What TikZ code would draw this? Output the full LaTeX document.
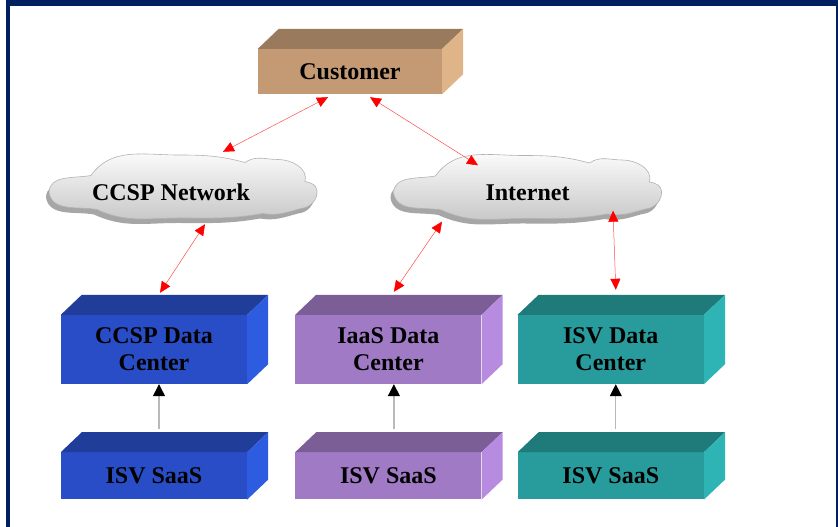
\documentclass[tikz,border=0pt]{standalone}
\usepackage{fontspec}
\setmainfont{Liberation Serif}
\usetikzlibrary{arrows.meta,positioning}

\definecolor{frame}{HTML}{002060}
\definecolor{custfront}{HTML}{C49A74}
\definecolor{custtop}{HTML}{997A5C}
\definecolor{custside}{HTML}{E0B489}
\definecolor{bluefront}{HTML}{284DC6}
\definecolor{bluetop}{HTML}{203D9A}
\definecolor{blueside}{HTML}{2E5CE0}
\definecolor{purpfront}{HTML}{A07AC4}
\definecolor{purptop}{HTML}{7C5E96}
\definecolor{purpside}{HTML}{B68BE0}
\definecolor{tealfront}{HTML}{289C9C}
\definecolor{tealtop}{HTML}{1F7A7A}
\definecolor{tealside}{HTML}{2EB4B4}

% top and right faces of a block
\newcommand{\boxfaces}[3]{%
  \fill[#2] (#1.north west) -- ++(21pt,20pt) -- ([shift={(21pt,20pt)}]#1.north east) -- (#1.north east) -- cycle;
  \fill[#3] (#1.north east) -- ++(21pt,20pt) -- ([shift={(21pt,20pt)}]#1.south east) -- (#1.south east) -- cycle;}

% outline of a cloud, around (0,0)
\newcommand{\cloudpath}{(-134,-6) to[out=88,in=190] (-92,11) to[out=55,in=180] (-5,31.5)
  to[out=0,in=165] (62,24) to[out=35,in=180] (95,27) to[out=0,in=75] (122,5)
  to[out=-10,in=95] (134,-4) to[out=-85,in=5] (118,-22) to[out=195,in=-10] (80,-27)
  to[out=190,in=0] (-3,-31.5) to[out=180,in=-25] (-86,-23) to[out=170,in=-80] (-134,-6) -- cycle}
\newcommand{\cloudat}[1]{%
  \begin{scope}[shift={#1}]
    \fill[gray!70] [shift={(-3,-5)}] \cloudpath;
    \shade[top color=white, bottom color=gray!45, draw=gray!60, line width=0.6pt] \cloudpath;
  \end{scope}}

\tikzset{
  block/.style={fill=#1, minimum width=186pt, minimum height=69pt, inner sep=0pt, align=center,
    font=\fontsize{24}{27}\selectfont\bfseries},
  netbox/.style={minimum width=267pt, minimum height=63pt, inner sep=0pt},
  nettext/.style={inner sep=0pt, font=\fontsize{24}{27}\selectfont\bfseries},
  link/.style={draw=red!70, line width=0.5pt,
    {Triangle[length=11pt,width=10pt,color=red]}-{Triangle[length=11pt,width=10pt,color=red]}},
  feed/.style={draw=gray!55, line width=1.2pt, -{Triangle[length=12pt,width=12pt,color=black]}}
}

\begin{document}
\begin{tikzpicture}[x=1pt,y=1pt]
  \useasboundingbox (0,0) rectangle (838,527);
  % frame
  \fill[frame] (6,0) rectangle (10,527);
  \fill[frame] (6,521) rectangle (838,527);
  \fill[frame] (836,0) rectangle (838,527);

  \node[block=custfront, minimum width=184pt, minimum height=45pt] (cust) at (350,455.5) {Customer};
  \boxfaces{cust}{custtop}{custside}

  % clouds
  \cloudat{(183,340.5)}
  \cloudat{(527.5,340)}
  \node[netbox] (ccspnet) at (183,340.5) {};
  \node[netbox] (inet) at (527.5,340) {};
  \node[nettext] (ccsplabel) at ([xshift=-12pt,yshift=-6pt]ccspnet.center) {CCSP Network};
  \node[nettext] (inetlabel) at ([yshift=-6pt]inet.center) {Internet};

  \node[block=bluefront] (ccspdc) at (154,177.5) {CCSP Data\\Center};
  \node[block=purpfront] (iaasdc) [right=48pt of ccspdc] {IaaS Data\\Center};
  \node[block=tealfront] (isvdc) [right=36pt of iaasdc] {ISV Data\\Center};
  \boxfaces{ccspdc}{bluetop}{blueside}
  \boxfaces{iaasdc}{purptop}{purpside}
  \boxfaces{isvdc}{tealtop}{tealside}

  \node[block=bluefront, minimum height=47pt] (saas1) [below=68pt of ccspdc] {ISV SaaS};
  \node[block=purpfront, minimum height=47pt] (saas2) [below=68pt of iaasdc] {ISV SaaS};
  \node[block=tealfront, minimum height=47pt] (saas3) [below=68pt of isvdc] {ISV SaaS};
  \boxfaces{saas1}{bluetop}{blueside}
  \boxfaces{saas2}{purptop}{purpside}
  \boxfaces{saas3}{tealtop}{tealside}

  \draw[link] ([xshift=-22pt,yshift=-3pt]cust.south) -- ([xshift=40pt,yshift=3pt]ccspnet.north);
  \draw[link] ([xshift=20pt,yshift=-3pt]cust.south) -- ([xshift=-49.5pt,yshift=-10pt]inet.north);
  \draw[link] ([xshift=22pt,yshift=-6pt]ccspnet.south) -- ([xshift=6pt,yshift=22pt]ccspdc.north);
  \draw[link] ([xshift=-85.5pt,yshift=-3pt]inet.south) -- ([xshift=5.5pt,yshift=23pt]iaasdc.north);
  \draw[link] ([xshift=85.5pt,yshift=8pt]inet.south) -- ([xshift=5pt,yshift=25pt]isvdc.north);

  \draw[feed] ([xshift=5pt,yshift=23pt]saas1.north) -- ([xshift=5pt]ccspdc.south);
  \draw[feed] ([xshift=5.5pt,yshift=23pt]saas2.north) -- ([xshift=5.5pt]iaasdc.south);
  \draw[feed] ([xshift=5pt,yshift=23pt]saas3.north) -- ([xshift=5pt]isvdc.south);
\end{tikzpicture}
\end{document}
